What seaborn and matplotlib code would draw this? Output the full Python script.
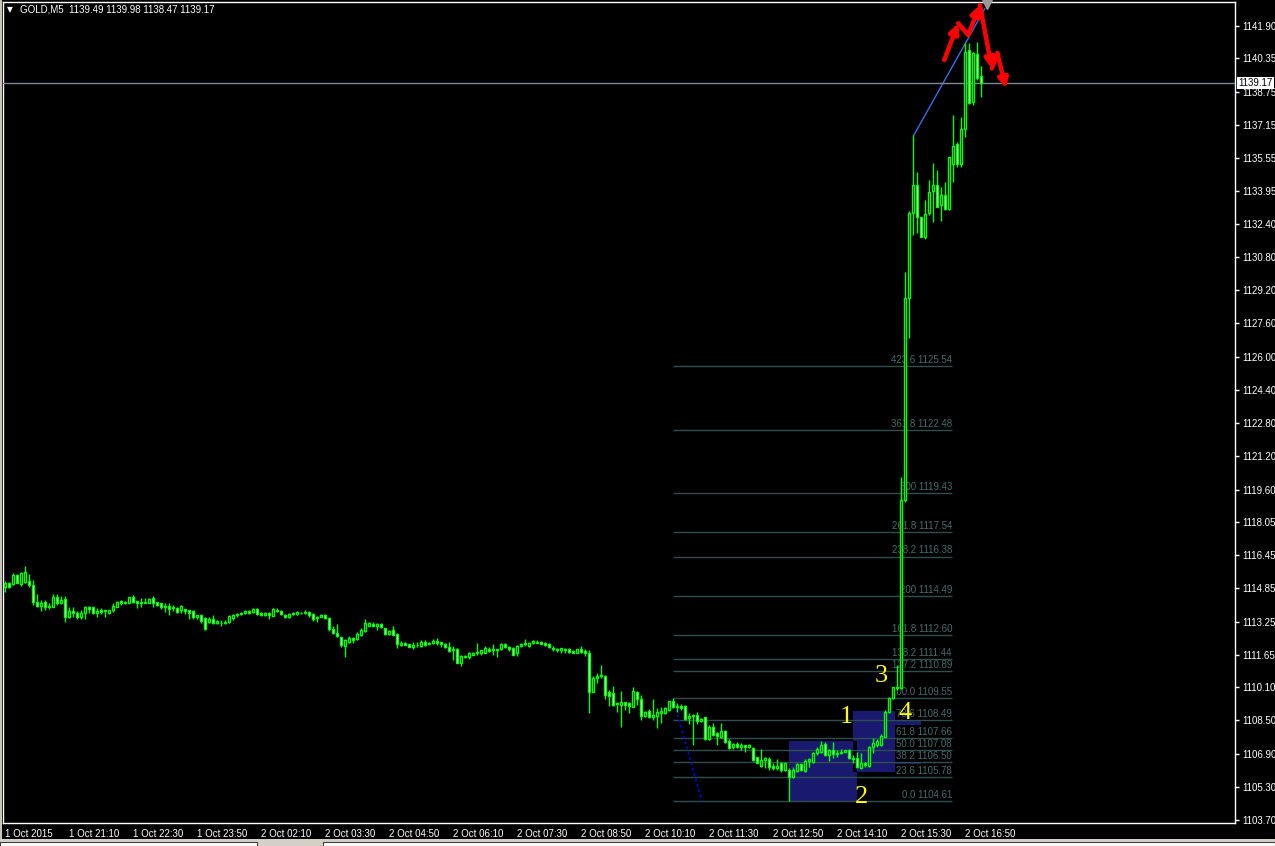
import numpy as np
import pandas as pd
import seaborn as sns
import matplotlib.pyplot as plt
import matplotlib.transforms as mtransforms
from matplotlib.patches import Rectangle

# GOLD, M5 candles (index = bar number, 5 minutes per bar)
opens = [
    1114.90, 1115.09, 1115.06, 1115.49, 1115.06, 1115.17, 1115.18, 1115.01, 1114.20, 1114.01,
    1114.20, 1113.93, 1113.96, 1114.41, 1114.12, 1114.32, 1113.45, 1113.77, 1113.68, 1113.45,
    1113.64, 1113.96, 1113.93, 1113.64, 1113.80, 1113.77, 1113.64, 1113.80, 1113.96, 1114.24,
    1114.12, 1114.16, 1114.41, 1114.24, 1114.16, 1114.12, 1114.16, 1114.37, 1114.20, 1114.12,
    1113.99, 1113.99, 1113.88, 1113.88, 1113.80, 1113.84, 1113.80, 1113.77, 1113.45, 1113.56,
    1113.40, 1113.24, 1113.35, 1113.16, 1113.19, 1113.19, 1113.24, 1113.40, 1113.56, 1113.61,
    1113.64, 1113.76, 1113.72, 1113.84, 1113.68, 1113.56, 1113.68, 1113.53, 1113.80, 1113.77,
    1113.56, 1113.45, 1113.61, 1113.61, 1113.68, 1113.64, 1113.72, 1113.61, 1113.40, 1113.48,
    1113.56, 1113.40, 1112.87, 1112.68, 1112.49, 1112.09, 1112.28, 1112.44, 1112.40, 1112.61,
    1112.81, 1113.06, 1113.13, 1113.05, 1113.13, 1112.93, 1112.65, 1112.85, 1112.65, 1112.12,
    1112.24, 1112.15, 1112.04, 1112.12, 1112.09, 1112.28, 1112.17, 1112.20, 1112.33, 1112.27,
    1112.17, 1112.01, 1111.88, 1111.91, 1111.27, 1111.59, 1111.53, 1111.64, 1111.75, 1111.72,
    1111.75, 1111.91, 1111.88, 1111.91, 1111.91, 1112.17, 1112.04, 1111.96, 1111.72, 1112.07,
    1112.15, 1112.07, 1112.20, 1112.28, 1112.28, 1112.24, 1112.17, 1111.99, 1111.91, 1111.88,
    1111.91, 1111.91, 1111.85, 1111.75, 1111.91, 1111.85, 1111.75, 1109.87, 1110.52, 1110.63,
    1110.63, 1109.87, 1109.79, 1109.31, 1109.23, 1109.38, 1109.31, 1109.15, 1109.87, 1109.51,
    1108.70, 1108.94, 1108.64, 1108.70, 1108.83, 1108.86, 1108.99, 1109.43, 1109.15, 1109.18,
    1109.18, 1108.59, 1108.70, 1108.75, 1108.48, 1108.64, 1107.58, 1108.19, 1107.87, 1107.71,
    1107.98, 1107.52, 1107.20, 1107.36, 1107.23, 1107.31, 1107.20, 1107.15, 1106.72, 1106.30,
    1106.59, 1106.62, 1106.30, 1106.19, 1106.43, 1106.11, 1106.11, 1105.75, 1106.08, 1106.38,
    1106.08, 1106.56, 1106.51, 1106.91, 1106.99, 1107.36, 1106.83, 1107.07, 1106.88, 1106.94,
    1106.99, 1107.07, 1106.67, 1106.67, 1106.19, 1106.43, 1106.30, 1107.20, 1107.31, 1107.31,
    1107.71, 1108.91, 1109.55, 1110.08, 1110.04, 1119.11, 1128.84, 1132.89, 1134.26, 1132.70,
    1131.74, 1132.89, 1133.98, 1134.26, 1133.29, 1133.78, 1133.10, 1135.27, 1136.23, 1135.27,
    1136.94, 1140.75, 1138.27, 1140.56, 1139.49,
]
highs = [
    1115.22, 1115.17, 1115.57, 1115.54, 1115.65, 1115.92, 1115.54, 1115.25, 1114.57, 1114.29,
    1114.29, 1114.16, 1114.57, 1114.57, 1114.48, 1114.48, 1113.96, 1113.96, 1113.77, 1113.80,
    1113.99, 1113.99, 1113.96, 1113.88, 1113.90, 1113.80, 1113.80, 1114.12, 1114.24, 1114.29,
    1114.24, 1114.45, 1114.53, 1114.24, 1114.37, 1114.37, 1114.37, 1114.48, 1114.20, 1114.16,
    1114.16, 1114.12, 1114.04, 1113.96, 1114.04, 1113.84, 1113.80, 1113.80, 1113.56, 1113.61,
    1113.45, 1113.48, 1113.56, 1113.32, 1113.32, 1113.32, 1113.56, 1113.61, 1113.68, 1113.72,
    1113.80, 1113.80, 1113.88, 1113.88, 1113.72, 1113.72, 1113.72, 1113.88, 1113.88, 1113.80,
    1113.60, 1113.64, 1113.72, 1113.77, 1113.72, 1113.80, 1113.77, 1113.64, 1113.52, 1113.60,
    1113.60, 1113.45, 1113.03, 1113.13, 1112.52, 1112.40, 1112.56, 1112.49, 1112.77, 1112.93,
    1113.38, 1113.25, 1113.22, 1113.20, 1113.20, 1112.93, 1112.85, 1113.04, 1112.72, 1112.33,
    1112.26, 1112.17, 1112.28, 1112.28, 1112.36, 1112.36, 1112.28, 1112.40, 1112.48, 1112.29,
    1112.24, 1112.28, 1112.07, 1111.96, 1111.64, 1111.64, 1111.80, 1111.78, 1112.24, 1111.88,
    1112.07, 1112.01, 1112.17, 1111.91, 1112.24, 1112.24, 1112.07, 1112.04, 1112.11, 1112.20,
    1112.40, 1112.28, 1112.36, 1112.36, 1112.30, 1112.28, 1112.24, 1112.07, 1111.99, 1111.96,
    1111.99, 1111.96, 1111.88, 1111.93, 1112.07, 1111.91, 1111.88, 1110.63, 1110.76, 1111.16,
    1110.68, 1109.95, 1110.15, 1109.39, 1109.92, 1109.39, 1109.39, 1110.11, 1109.92, 1109.71,
    1108.96, 1109.02, 1109.51, 1109.07, 1109.15, 1109.12, 1109.44, 1109.55, 1109.34, 1109.30,
    1109.23, 1108.83, 1108.78, 1108.91, 1108.59, 1108.67, 1108.27, 1108.35, 1107.95, 1108.35,
    1108.03, 1107.58, 1107.42, 1107.47, 1107.39, 1107.31, 1107.36, 1107.23, 1106.75, 1107.10,
    1106.75, 1106.75, 1106.43, 1106.62, 1106.51, 1106.46, 1106.19, 1106.27, 1106.43, 1106.43,
    1106.62, 1106.67, 1106.99, 1107.23, 1107.50, 1107.47, 1107.10, 1107.47, 1107.07, 1107.10,
    1107.07, 1107.10, 1106.83, 1106.99, 1106.91, 1106.51, 1107.26, 1107.63, 1107.58, 1107.84,
    1108.99, 1109.63, 1110.11, 1111.16, 1120.21, 1130.07, 1133.03, 1136.66, 1134.90, 1132.73,
    1133.54, 1134.50, 1135.30, 1134.98, 1134.18, 1134.42, 1135.62, 1137.63, 1136.34, 1137.55,
    1141.07, 1141.07, 1140.67, 1141.15, 1139.98,
]
lows = [
    1114.69, 1114.85, 1115.01, 1115.09, 1114.96, 1115.12, 1114.93, 1114.04, 1113.96, 1113.77,
    1113.80, 1113.85, 1113.93, 1114.04, 1114.09, 1113.24, 1113.40, 1113.48, 1113.36, 1113.36,
    1113.39, 1113.68, 1113.61, 1113.48, 1113.61, 1113.48, 1113.60, 1113.72, 1113.93, 1114.04,
    1114.09, 1114.12, 1114.12, 1113.88, 1113.96, 1114.12, 1114.12, 1113.96, 1113.99, 1113.84,
    1113.72, 1113.56, 1113.77, 1113.68, 1113.68, 1113.61, 1113.36, 1113.39, 1113.36, 1113.19,
    1112.84, 1113.16, 1113.11, 1113.13, 1113.03, 1113.13, 1113.19, 1113.32, 1113.45, 1113.56,
    1113.61, 1113.61, 1113.68, 1113.56, 1113.52, 1113.52, 1113.36, 1113.50, 1113.69, 1113.58,
    1113.40, 1113.42, 1113.58, 1113.56, 1113.61, 1113.61, 1113.48, 1113.29, 1113.24, 1113.45,
    1113.37, 1112.81, 1112.65, 1112.52, 1112.04, 1111.56, 1112.20, 1112.20, 1112.36, 1112.56,
    1112.77, 1113.04, 1113.04, 1112.85, 1112.93, 1112.61, 1112.62, 1112.61, 1111.99, 1112.09,
    1112.10, 1112.02, 1111.93, 1112.04, 1112.04, 1112.07, 1112.15, 1112.15, 1112.12, 1112.04,
    1111.96, 1111.80, 1111.40, 1111.24, 1111.11, 1111.48, 1111.43, 1111.62, 1111.64, 1111.64,
    1111.72, 1111.80, 1111.64, 1111.53, 1111.88, 1111.96, 1111.85, 1111.64, 1111.59, 1112.04,
    1112.09, 1112.04, 1112.15, 1112.20, 1112.15, 1112.07, 1111.96, 1111.85, 1111.80, 1111.72,
    1111.75, 1111.75, 1111.72, 1111.72, 1111.75, 1111.59, 1108.83, 1109.87, 1110.27, 1110.52,
    1109.51, 1109.18, 1109.18, 1108.91, 1108.16, 1108.99, 1108.86, 1109.12, 1109.23, 1108.51,
    1108.64, 1108.59, 1108.51, 1108.11, 1108.38, 1108.80, 1108.96, 1109.07, 1108.91, 1108.99,
    1108.49, 1108.32, 1107.31, 1108.32, 1108.43, 1107.55, 1107.55, 1107.74, 1107.31, 1107.63,
    1107.42, 1107.10, 1107.10, 1107.15, 1107.07, 1106.99, 1107.15, 1106.56, 1106.43, 1106.24,
    1106.19, 1106.11, 1106.11, 1106.11, 1106.03, 1106.06, 1104.61, 1105.70, 1106.03, 1106.08,
    1106.03, 1106.27, 1106.46, 1106.83, 1106.91, 1106.78, 1106.56, 1106.67, 1106.75, 1106.88,
    1106.99, 1106.62, 1106.43, 1106.19, 1106.16, 1106.27, 1106.27, 1106.91, 1107.20, 1107.26,
    1107.68, 1108.86, 1109.51, 1109.96, 1110.00, 1119.00, 1126.88, 1131.87, 1131.93, 1131.74,
    1131.64, 1132.82, 1132.49, 1133.18, 1132.54, 1133.05, 1133.05, 1134.42, 1135.14, 1135.14,
    1136.58, 1138.16, 1138.11, 1139.30, 1138.47,
]
closes = [
    1115.09, 1114.90, 1115.49, 1115.12, 1115.57, 1115.62, 1114.99, 1114.20, 1114.01, 1114.16,
    1113.96, 1114.01, 1114.41, 1114.16, 1114.29, 1113.45, 1113.77, 1113.64, 1113.48, 1113.68,
    1113.93, 1113.85, 1113.68, 1113.77, 1113.72, 1113.80, 1113.80, 1113.99, 1114.20, 1114.12,
    1114.20, 1114.41, 1114.20, 1114.12, 1114.20, 1114.20, 1114.32, 1114.16, 1114.04, 1113.96,
    1113.93, 1113.84, 1113.96, 1113.72, 1113.99, 1113.77, 1113.68, 1113.45, 1113.56, 1113.29,
    1112.87, 1113.35, 1113.16, 1113.29, 1113.16, 1113.24, 1113.52, 1113.56, 1113.61, 1113.68,
    1113.76, 1113.64, 1113.84, 1113.61, 1113.56, 1113.68, 1113.56, 1113.84, 1113.77, 1113.61,
    1113.45, 1113.61, 1113.68, 1113.72, 1113.64, 1113.69, 1113.56, 1113.36, 1113.48, 1113.56,
    1113.40, 1112.87, 1112.68, 1112.55, 1112.10, 1112.36, 1112.44, 1112.36, 1112.65, 1112.85,
    1113.17, 1113.20, 1113.05, 1113.13, 1112.98, 1112.65, 1112.81, 1112.61, 1112.17, 1112.24,
    1112.12, 1112.04, 1112.12, 1112.10, 1112.28, 1112.12, 1112.24, 1112.33, 1112.20, 1112.17,
    1112.01, 1111.85, 1111.91, 1111.27, 1111.59, 1111.53, 1111.72, 1111.75, 1111.80, 1111.88,
    1111.96, 1111.85, 1111.91, 1111.88, 1112.17, 1112.04, 1111.91, 1111.64, 1112.07, 1112.15,
    1112.20, 1112.24, 1112.33, 1112.24, 1112.16, 1112.12, 1112.01, 1111.91, 1111.88, 1111.96,
    1111.88, 1111.80, 1111.75, 1111.91, 1111.80, 1111.75, 1109.87, 1110.52, 1110.63, 1110.68,
    1109.71, 1109.67, 1109.23, 1109.28, 1109.38, 1109.23, 1109.18, 1109.92, 1109.51, 1108.70,
    1108.91, 1108.64, 1108.75, 1108.91, 1108.96, 1109.07, 1109.43, 1109.15, 1109.18, 1109.07,
    1108.56, 1108.70, 1108.75, 1108.48, 1108.54, 1107.58, 1108.19, 1107.79, 1107.74, 1107.98,
    1107.47, 1107.15, 1107.36, 1107.23, 1107.31, 1107.20, 1107.31, 1106.59, 1106.46, 1106.59,
    1106.67, 1106.24, 1106.19, 1106.30, 1106.11, 1106.43, 1105.75, 1106.11, 1106.38, 1106.11,
    1106.56, 1106.64, 1106.91, 1107.10, 1107.31, 1106.83, 1107.07, 1106.88, 1106.94, 1106.99,
    1107.07, 1106.67, 1106.62, 1106.27, 1106.43, 1106.33, 1107.20, 1107.42, 1107.52, 1107.74,
    1108.91, 1109.55, 1110.08, 1110.04, 1119.11, 1128.84, 1132.89, 1134.26, 1132.73, 1131.74,
    1132.86, 1133.94, 1134.26, 1133.22, 1133.78, 1133.10, 1135.62, 1136.14, 1135.27, 1136.94,
    1140.67, 1138.19, 1140.59, 1139.39, 1139.17,
]

# time axis
time_ticks = [0, 16, 32, 48, 64, 80, 96, 112, 128, 144, 160, 176, 192, 208, 224, 240]
time_labels = ['1 Oct 2015', '1 Oct 21:10', '1 Oct 22:30', '1 Oct 23:50', '2 Oct 02:10',
               '2 Oct 03:30', '2 Oct 04:50', '2 Oct 06:10', '2 Oct 07:30', '2 Oct 08:50',
               '2 Oct 10:10', '2 Oct 11:30', '2 Oct 12:50', '2 Oct 14:10', '2 Oct 15:30',
               '2 Oct 16:50']
price_ticks = [1141.90, 1140.35, 1138.75, 1137.15, 1135.55, 1133.95, 1132.40, 1130.80,
               1129.20, 1127.60, 1126.00, 1124.40, 1122.80, 1121.20, 1119.60, 1118.05,
               1116.45, 1114.85, 1113.25, 1111.65, 1110.10, 1108.50, 1106.90, 1105.30,
               1103.70]

# fibonacci object
fib_pcts = ['0.0', '23.6', '38.2', '50.0', '61.8', '78.6', '100.0', '127.2', '138.2',
            '161.8', '200', '238.2', '261.8', '300', '361.8', '423.6']
fib_prices = [1104.61, 1105.78, 1106.50, 1107.08, 1107.66, 1108.49, 1109.55, 1110.89,
              1111.44, 1112.60, 1114.49, 1116.38, 1117.54, 1119.43, 1122.48, 1125.54]
fib_bars = [167, 236.75]
fib_base_x = [167, 174.25]
fib_base_y = [1109.55, 1104.61]

# drawn objects
box_bars = [(196, 213), (212, 229)]
box_prices = [(1104.61, 1107.50), (1106.02, 1108.95)]
trend_x = [227.1, 245.0]
trend_y = [1136.62, 1142.76]
wave_text = ['1', '2', '3', '4']
wave_x = [210.25, 214.25, 219.0, 225.1]
wave_y = [1108.36, 1104.50, 1110.36, 1108.55]
arrow_x = [234.8, 238.3, 240.8, 243.75, 246.7, 248.1, 250.25]
arrow_y = [1140.27, 1142.04, 1141.48, 1142.92, 1139.87, 1140.60, 1138.91]
arrow_heads = [True, False, True, True, False, True]
bid = 1139.17

df = pd.DataFrame({'open': opens, 'high': highs, 'low': lows, 'close': closes})
df['bar'] = np.arange(len(df))

sns.set_theme(style='dark', rc={'axes.facecolor': 'black', 'figure.facecolor': 'black',
                                'axes.edgecolor': 'white', 'axes.grid': False})
plt.rcParams['font.family'] = ['Liberation Sans', 'DejaVu Sans']

W, H = 1275, 846
fig = plt.figure(figsize=(W / 100, H / 100), dpi=100)
ax = fig.add_axes([3 / W, 23 / H, 1232 / W, 821 / H])
ax.set_xlim(-0.5, 307.5)
ax.set_ylim(1103.556, 1143.065)

lime = '#00ff00'
# wicks + bodies
ax.vlines(df['bar'], df['low'], df['high'], color=lime, lw=1, zorder=4)
bull = df['close'] >= df['open']
fills = np.where(bull, 'black', 'white')
ax.bar(df['bar'], df['close'] - df['open'], bottom=df['open'], width=0.6,
       color=fills, edgecolor=lime, linewidth=1, zorder=4.5)

# rectangles (overlap shows through as black, like MT4's xor fill)
navy = '#191970'
for (b0, b1), (p0, p1) in zip(box_bars, box_prices):
    ax.add_patch(Rectangle((b0, p0), b1 - b0, p1 - p0, facecolor=navy,
                           edgecolor='none', zorder=1))
ov_x0, ov_x1 = box_bars[1][0], box_bars[0][1]
ov_y0, ov_y1 = box_prices[1][0], box_prices[0][1]
ax.add_patch(Rectangle((ov_x0, ov_y0), ov_x1 - ov_x0, ov_y1 - ov_y0,
                       facecolor='black', edgecolor='none', zorder=1.1))

# fibonacci levels
fib_col = '#2f4f4f'
ax.hlines(fib_prices, fib_bars[0], fib_bars[1], color=fib_col, lw=1, zorder=3)
for pct, val in zip(fib_pcts, fib_prices):
    ax.annotate(f'{pct} {val:.2f}', xy=(fib_bars[1], val), xytext=(0, 2.2),
                textcoords='offset points', ha='right', va='baseline',
                fontsize=7, color='#476b6b', zorder=2.5,
                bbox=dict(facecolor='black', edgecolor='none', pad=1.0))
ax.plot(fib_base_x, fib_base_y, color='#0000ff', lw=1, ls=(0, (2, 2)), zorder=3)

# trendline and bid line
sns.lineplot(x=trend_x, y=trend_y, ax=ax, color='#4169e1', lw=1, zorder=3)
ax.plot([trend_x[1] + 0.5], [1142.97], marker='v', color='#9a9a9a', ms=7,
        clip_on=False, zorder=6)
ax.axhline(bid, color='#7a8a9a', lw=1, zorder=3)

# wave counts
for t, x, y in zip(wave_text, wave_x, wave_y):
    ax.text(x, y, t, color='#ffff00', fontsize=19, family=['Liberation Serif'],
            ha='center', va='baseline', zorder=7)

# red hand-drawn arrows
for i, head in enumerate(arrow_heads):
    p0 = (arrow_x[i], arrow_y[i])
    p1 = (arrow_x[i + 1], arrow_y[i + 1])
    style = '-|>' if head else '-'
    ax.annotate('', xy=p1, xytext=p0, zorder=8,
                arrowprops=dict(arrowstyle=style, color='#ff0000', lw=3.2,
                                mutation_scale=14, shrinkA=0, shrinkB=0,
                                capstyle='round', joinstyle='round'))

# axes
for s in ax.spines.values():
    s.set_color('white')
    s.set_linewidth(1)
ax.yaxis.tick_right()
ax.set_yticks(price_ticks)
ax.set_yticklabels([f'{p:.2f}' for p in price_ticks])
ax.set_xticks(time_ticks)
ax.set_xticklabels(time_labels, ha='left')
ax.tick_params(axis='both', colors='white', labelcolor='white', labelsize=7,
               direction='out', length=3, width=1)
ax.tick_params(axis='y', pad=2)
ax.tick_params(axis='x', pad=1)
ax.set_xlabel('')
ax.set_ylabel('')

# current price tag
tr = mtransforms.blended_transform_factory(ax.transAxes, ax.transData)
ax.text(1.0028, bid, f'{bid:.2f}', transform=tr, color='black', fontsize=7,
        ha='left', va='center', clip_on=False, zorder=10,
        bbox=dict(facecolor='white', edgecolor='none', pad=0.8))

# header
fig.text(7 / W, 1 - 10 / H, '\u25bc', color='white', fontsize=5.5, va='center',
         family=['DejaVu Sans'])
fig.text(20 / W, 1 - 10 / H, 'GOLD,M5  1139.49 1139.98 1138.47 1139.17',
         color='white', fontsize=7, va='center')

# window chrome
fig.add_artist(Rectangle((0, 0), 2 / W, 1, transform=fig.transFigure,
                         facecolor='#c8c4bc', edgecolor='none'))
fig.add_artist(Rectangle((0, 0), 1, 7 / H, transform=fig.transFigure,
                         facecolor='#d4d0c8', edgecolor='none'))
for x0, x1 in [(0, 257), (323, 1275)]:
    fig.add_artist(Rectangle((x0 / W, 0), (x1 - x0) / W, 4 / H,
                             transform=fig.transFigure, facecolor='white',
                             edgecolor='#404040', linewidth=0.8))

fig.savefig('out.png', dpi=100, facecolor='black')
